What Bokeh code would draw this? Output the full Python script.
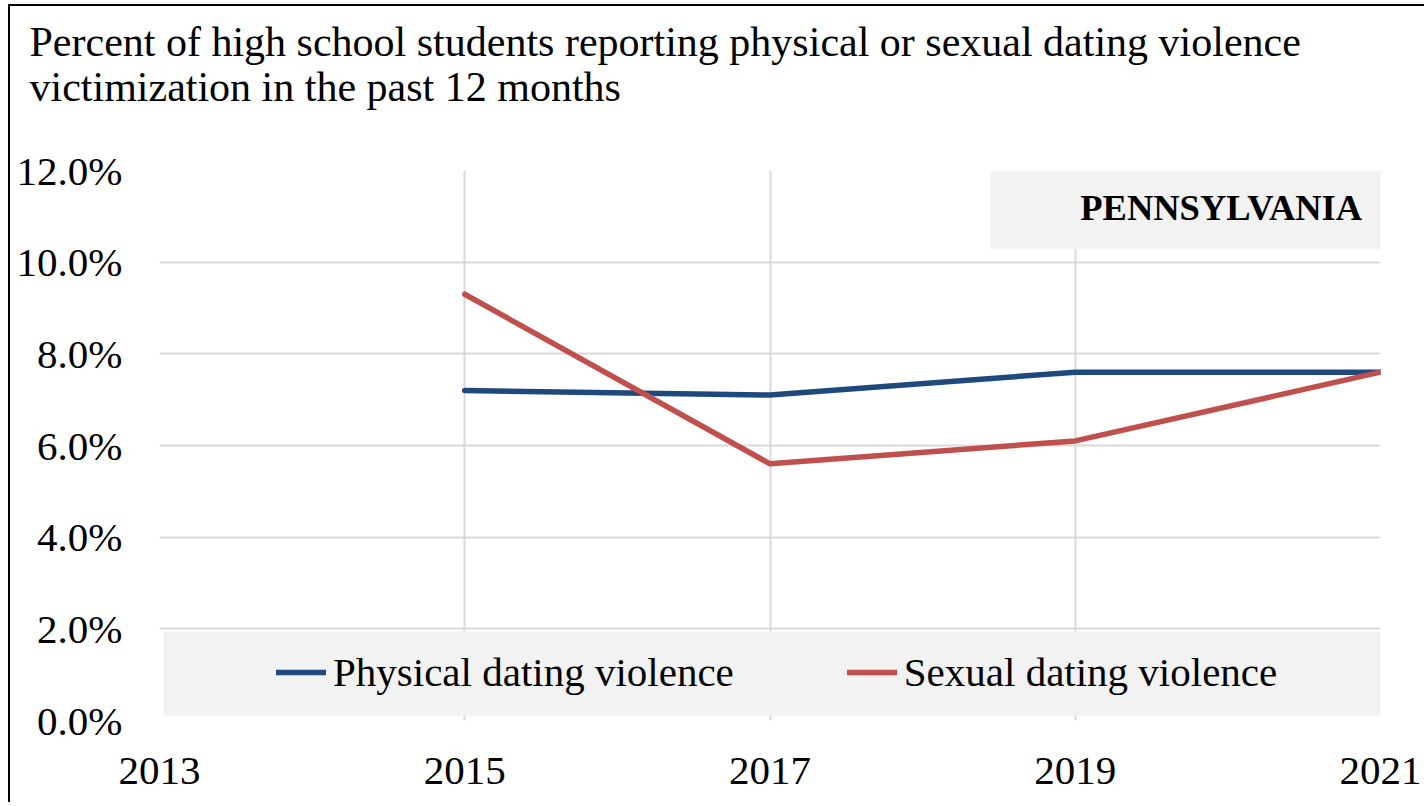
from bokeh.plotting import figure
from bokeh.models import (Range1d, FixedTicker, CustomJSTickFormatter, Legend, LegendItem,
                          BoxAnnotation, Label, Title)
from bokeh.embed import file_html
from bokeh.resources import INLINE

# ---- data ----
years = [2015, 2017, 2019, 2021]
physical = [7.2, 7.1, 7.6, 7.6]
sexual = [9.3, 5.6, 6.1, 7.6]
x_ticks = [2013, 2015, 2017, 2019, 2021]
y_ticks = [0, 2, 4, 6, 8, 10, 12]
series_names = ["Physical dating violence", "Sexual dating violence"]
title_lines = ["Percent of high school students reporting physical or sexual dating violence",
               "victimization in the past 12 months"]
state_name = "PENNSYLVANIA"

FONT = "Liberation Serif"
BLUE = "#1F497D"
RED = "#C0504D"
GRID = "#D9D9D9"
PANEL = "#F2F2F2"

p = figure(frame_width=1221, frame_height=550,
           min_border_left=149, min_border_top=164, min_border_right=44, min_border_bottom=82,
           x_range=Range1d(2013, 2021), y_range=Range1d(0, 12), title_location=None,
           output_backend="svg", toolbar_location=None)
p.outline_line_color = None
p.background_fill_color = "white"
p.border_fill_color = "white"
p.styles = {"margin-left": "8px", "margin-top": "4px",
            "border-left": "2px solid black", "border-top": "2px solid black"}

# blank spacer panel between title and plot area (added first = next to the frame)
p.add_layout(Title(text=" ", align="left", text_font=FONT, text_font_size="30px",
                   standoff=12), "above")
# two-line title
p.add_layout(Title(text="\n".join(title_lines), align="left", offset=-130, vertical_align="top",
                   text_font=FONT, text_font_size="42px", text_font_style="normal",
                   text_color="black", text_line_height=0.98, standoff=23), "above")

for ax in (p.xaxis[0], p.yaxis[0]):
    ax.axis_line_color = None
    ax.major_tick_line_color = None
    ax.minor_tick_line_color = None
    ax.major_tick_out = 0
    ax.major_tick_in = 0
    ax.major_label_text_font = FONT
    ax.major_label_text_font_size = "41px"
    ax.major_label_text_color = "black"

p.xaxis.ticker = FixedTicker(ticks=x_ticks)
p.xaxis.major_label_standoff = 37
p.yaxis.ticker = FixedTicker(ticks=y_ticks)
p.yaxis.formatter = CustomJSTickFormatter(code="return tick.toFixed(1) + '%';")
p.yaxis.major_label_standoff = 37

p.xgrid.ticker = FixedTicker(ticks=x_ticks)
p.ygrid.ticker = FixedTicker(ticks=y_ticks)
for g in (p.xgrid[0], p.ygrid[0]):
    g.grid_line_color = GRID
    g.grid_line_width = 2

r1 = p.line(years, physical, line_color=BLUE, line_width=5.5, line_cap="round", line_join="round")
r2 = p.line(years, sexual, line_color=RED, line_width=5.5, line_cap="round", line_join="round")

# state label panel
p.add_layout(BoxAnnotation(left=2018.445, right=2021.02, top=12.0, bottom=10.28,
                           fill_color=PANEL, fill_alpha=1, line_color=None))
p.add_layout(Label(x=2020.88, y=11.19, text=state_name, text_align="right", text_baseline="middle",
                   text_font=FONT, text_font_size="36.5px", text_font_style="bold",
                   text_color="black"))

# legend panel
p.add_layout(BoxAnnotation(left=2013.026, right=2021.02, top=1.94, bottom=0.11,
                           fill_color=PANEL, fill_alpha=1, line_color=None))
legend = Legend(items=[LegendItem(label=series_names[0], renderers=[r1]),
                       LegendItem(label=series_names[1], renderers=[r2])],
                orientation="horizontal", location=(117, 24),
                background_fill_alpha=0, border_line_color=None,
                label_text_font=FONT, label_text_font_size="41px", label_text_color="black",
                glyph_width=50, glyph_height=40, label_height=40, label_standoff=7,
                spacing=113, padding=0, margin=0)
p.add_layout(legend)

open("out.html", "w").write(file_html(p, INLINE))
